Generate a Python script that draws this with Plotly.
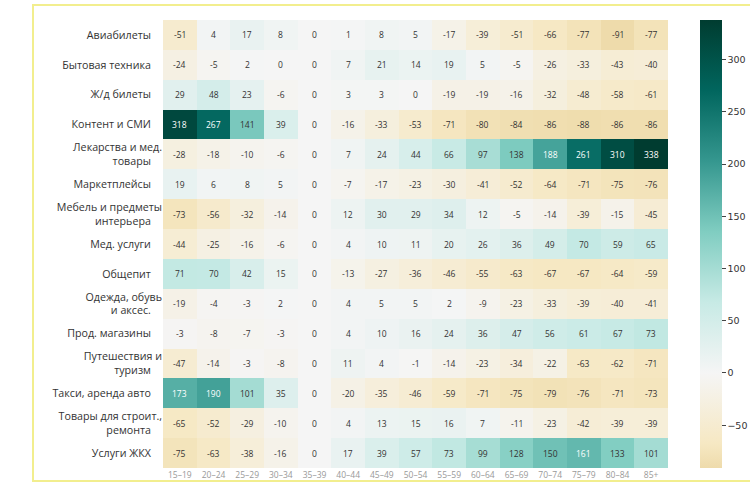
import plotly.graph_objects as go

categories = [
    "Авиабилеты", "Бытовая техника", "Ж/д билеты", "Контент и СМИ",
    "Лекарства и мед.<br>товары", "Маркетплейсы", "Мебель и предметы<br>интерьера",
    "Мед. услуги", "Общепит", "Одежда, обувь<br>и аксес.", "Прод. магазины",
    "Путешествия и<br>туризм", "Такси, аренда авто", "Товары для строит.,<br>ремонта",
    "Услуги ЖКХ",
]
age_groups = ["15–19", "20–24", "25–29", "30–34", "35–39", "40–44", "45–49", "50–54",
              "55–59", "60–64", "65–69", "70–74", "75–79", "80–84", "85+"]

avia = [-51, 4, 17, 8, 0, 1, 8, 5, -17, -39, -51, -66, -77, -91, -77]
tech = [-24, -5, 2, 0, 0, 7, 21, 14, 19, 5, -5, -26, -33, -43, -40]
rail = [29, 48, 23, -6, 0, 3, 3, 0, -19, -19, -16, -32, -48, -58, -61]
media = [318, 267, 141, 39, 0, -16, -33, -53, -71, -80, -84, -86, -88, -86, -86]
pharma = [-28, -18, -10, -6, 0, 7, 24, 44, 66, 97, 138, 188, 261, 310, 338]
market = [19, 6, 8, 5, 0, -7, -17, -23, -30, -41, -52, -64, -71, -75, -76]
furniture = [-73, -56, -32, -14, 0, 12, 30, 29, 34, 12, -5, -14, -39, -15, -45]
medserv = [-44, -25, -16, -6, 0, 4, 10, 11, 20, 26, 36, 49, 70, 59, 65]
catering = [71, 70, 42, 15, 0, -13, -27, -36, -46, -55, -63, -67, -67, -64, -59]
clothes = [-19, -4, -3, 2, 0, 4, 5, 5, 2, -9, -23, -33, -39, -40, -41]
grocery = [-3, -8, -7, -3, 0, 4, 10, 16, 24, 36, 47, 56, 61, 67, 73]
travel = [-47, -14, -3, -8, 0, 11, 4, -1, -14, -23, -34, -22, -63, -62, -71]
taxi = [173, 190, 101, 35, 0, -20, -35, -46, -59, -71, -75, -79, -76, -71, -73]
building = [-65, -52, -29, -10, 0, 4, 13, 15, 16, 7, -11, -23, -42, -39, -39]
utilities = [-75, -63, -38, -16, 0, 17, 39, 57, 73, 99, 128, 150, 161, 133, 101]

z = [avia, tech, rail, media, pharma, market, furniture, medserv, catering,
     clothes, grocery, travel, taxi, building, utilities]

colorbar_ticks = [-50, 0, 50, 100, 150, 200, 250, 300]

# BrBG colormap, recentered at 0 (seaborn style)
brbg = [(0.3, (223, 194, 125)), (0.4, (246, 232, 195)), (0.5, (245, 245, 245)),
        (0.6, (199, 234, 229)), (0.7, (128, 205, 193)), (0.8, (53, 151, 143)),
        (0.9, (1, 102, 94)), (1.0, (0, 60, 48))]
zmin = min(min(r) for r in z)
zmax = max(max(r) for r in z)
vr = max(zmax, -zmin)
pmin = 0.5 + zmin / (2 * vr)

def interp(p):
    for (p0, c0), (p1, c1) in zip(brbg[:-1], brbg[1:]):
        if p0 <= p <= p1:
            t = (p - p0) / (p1 - p0)
            return tuple(int(round(a + (b - a) * t)) for a, b in zip(c0, c1))
    return brbg[-1][1]

stops = [pmin] + [p for p, _ in brbg if p > pmin]
colorscale = []
for p in stops:
    v = (p - 0.5) * 2 * vr
    s = (v - zmin) / (zmax - zmin)
    s = round(min(max(s, 0.0), 1.0), 6)
    c = interp(p)
    colorscale.append([s, f"rgb({c[0]},{c[1]},{c[2]})"])
colorscale[0][0] = 0.0
colorscale[-1][0] = 1.0

fig = go.Figure(go.Heatmap(
    z=z, x=age_groups, y=categories, colorscale=colorscale,
    zmin=zmin, zmax=zmax, xgap=0, ygap=0,
    colorbar=dict(
        x=(700 - 163) / 505, xanchor="left", xpad=0, ypad=0,
        y=0.5, yanchor="middle", len=1.0, lenmode="fraction",
        thickness=22, outlinewidth=0, tickvals=colorbar_ticks, ticks="outside",
        ticklen=4, tickcolor="#444", tickfont=dict(family="DejaVu Sans", size=9.5, color="#333"),
    ),
    hoverinfo="skip",
))

annotations = []
for i, cat in enumerate(categories):
    for j, ag in enumerate(age_groups):
        v = z[i][j]
        annotations.append(dict(
            x=ag, y=cat, text=str(v), showarrow=False,
            font=dict(family="Open Sans", size=8.5, color="white" if v > 155 else "#333"),
        ))

fig.update_layout(
    width=750, height=485,
    margin=dict(l=163, r=82, t=20, b=17, autoexpand=False),
    paper_bgcolor="white", plot_bgcolor="white",
    annotations=annotations,
    xaxis=dict(side="bottom", showgrid=False, zeroline=False, ticks="",
               tickfont=dict(family="Open Sans", size=8.5, color="#999")),
    yaxis=dict(autorange="reversed", showgrid=False, zeroline=False, ticks="",
               ticksuffix="    ", tickfont=dict(family="Open Sans", size=10.7, color="#333")),
    shapes=[dict(type="rect", xref="paper", yref="paper",
                 x0=(33 - 163) / 505, x1=(760 - 163) / 505,
                 y0=(468 - 481) / 448, y1=1 + (20 - 5) / 448,
                 line=dict(color="#f2ee8e", width=2), layer="below")],
)

fig.write_html("out.html", config={"displayModeBar": False},
               post_script="document.body.style.margin='0';")
